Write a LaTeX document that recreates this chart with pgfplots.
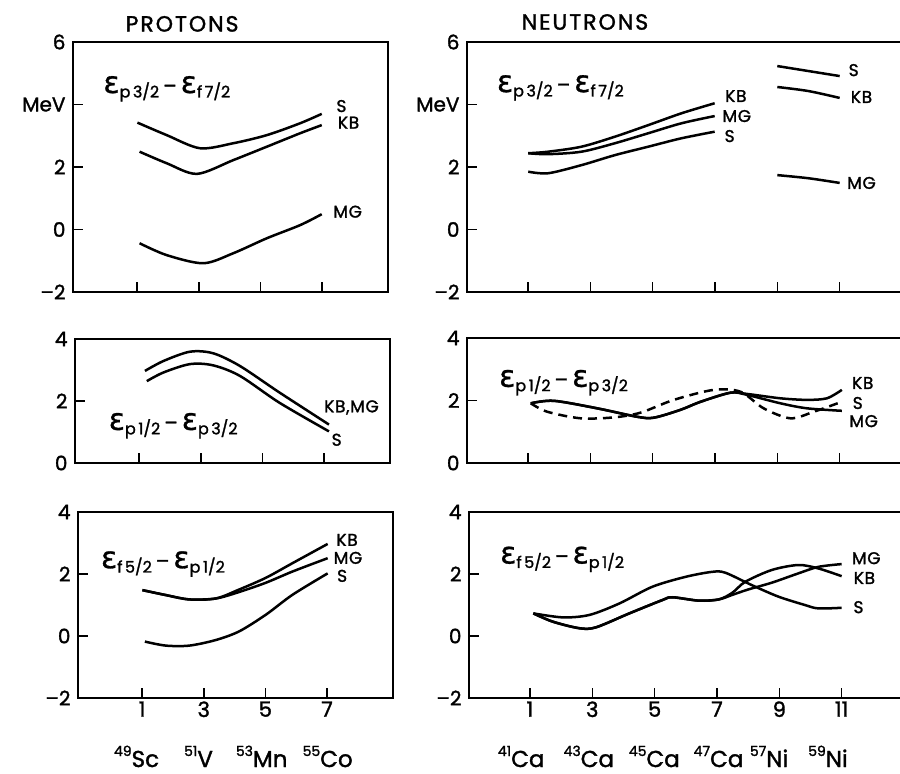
\documentclass[border=0pt]{standalone}
\usepackage{fontspec}
\setmainfont{Poppins}[UprightFeatures={FakeBold=1.5}]
\newfontfamily\epsfont{DejaVu Sans}[UprightFeatures={FakeBold=1}]
\usepackage{pgfplots}
\pgfplotsset{compat=1.18}

\newcommand{\fs}[1]{\fontsize{#1}{#1}\selectfont}
\newcommand{\E}[2]{{\epsfont\fs{30}ε}\raisebox{-4.5pt}{\fs{16}#1\hspace{2.5pt}#2}}
\newcommand{\Dsh}{\hspace{4pt}{\fs{20}–}\hspace{4pt}}
\newcommand{\nuc}[2]{\raisebox{11pt}{\fs{14}#1}{\fs{23}#2}}
\newcommand{\hdr}[1]{{\fs{22}\addfontfeature{LetterSpace=9}#1}}

\tikzset{
  lab/.style={font=\fs{17}\addfontfeature{LetterSpace=4}, inner sep=0pt},
  dsh/.style={dash pattern=on 9pt off 6pt},
}
\pgfplotsset{
  panel/.style={
    scale only axis, clip=false,
    axis line style={line width=1.7pt},
    tick style={line width=1.5pt, black},
    major tick length=10pt,
    tick align=inside,
    xtick pos=bottom, ytick pos=left,
    xticklabels={},
    yticklabel style={font=\fs{20}, xshift=-4pt},
    xticklabel style={font=\fs{21}},
    cycle list={{black}},
    every axis plot post/.append style={line width=2.5pt, black, smooth, tension=0.5, mark=none},
  },
  L/.style={panel, width=315pt, xmin=-1.08, xmax=9.14, xtick={1,3,5,7}},
  R/.style={panel, width=435pt, xmin=-0.955, xmax=13, xtick={1,3,5,7,9,11}},
}

\begin{document}
\begin{tikzpicture}
\useasboundingbox (0pt,0pt) rectangle (900pt,774pt);

% ---------- PROTONS top ----------
\begin{axis}[L, at={(73pt,482pt)}, anchor=south west, height=250pt,
  ymin=-2, ymax=6, ytick={-2,0,2,4,6}, yticklabels={–2,0,2,MeV,6}]
\addplot coordinates {(1.01,3.42) (1.96,3.02) (3.04,2.60) (4.12,2.76) (5.21,3.02) (6.29,3.40) (6.99,3.70)};
\addplot coordinates {(1.08,2.49) (1.96,2.12) (2.94,1.78) (4.12,2.22) (5.21,2.65) (6.29,3.08) (6.99,3.34)};
\addplot coordinates {(1.08,-0.44) (1.96,-0.82) (3.15,-1.08) (4.12,-0.76) (5.21,-0.28) (6.29,0.14) (6.99,0.49)};
\node at (axis cs:2.46,6.58) {\hdr{PROTONS}};
\node[anchor=base west, inner sep=0pt] at (axis cs:-0.1,4.37) {\E{p}{3/2}\Dsh\E{f}{7/2}};
\node[lab] at (axis cs:7.63,3.95) {S};
\node[lab] at (axis cs:7.86,3.42) {KB};
\node[lab] at (axis cs:7.83,0.57) {MG};
\end{axis}

% ---------- PROTONS middle ----------
\begin{axis}[L, at={(75pt,311pt)}, anchor=south west, height=124pt,
  ymin=0, ymax=4, ytick={0,2,4}, yticklabels={0,2,4}]
\addplot coordinates {(1.19,2.97) (1.79,3.29) (2.65,3.59) (3.40,3.54) (4.27,3.13) (5.56,2.27) (7.16,1.24)};
\addplot coordinates {(1.25,2.64) (1.79,2.92) (2.65,3.19) (3.40,3.15) (4.27,2.81) (5.56,1.94) (7.16,1.02)};
\node[anchor=base west, inner sep=0pt] at (axis cs:0.01,1.07) {\E{p}{1/2}\Dsh\E{p}{3/2}};
\node[lab] at (axis cs:7.89,1.79) {KB,MG};
\node[lab] at (axis cs:7.41,0.75) {S};
\end{axis}

% ---------- PROTONS bottom ----------
\begin{axis}[L, at={(78pt,76pt)}, anchor=south west, height=186pt,
  ymin=-2, ymax=4, ytick={-2,0,2,4}, yticklabels={–2,0,2,4},
  xticklabels={1,3,5,7}]
\addplot coordinates {(1.01,1.48) (1.77,1.32) (2.53,1.18) (3.39,1.21) (4.15,1.50) (5.02,1.88) (5.88,2.35) (7.02,2.97)};
\addplot coordinates {(1.01,1.48) (1.77,1.32) (2.53,1.18) (3.39,1.21) (4.15,1.42) (5.02,1.72) (5.88,2.08) (7.02,2.51)};
\addplot coordinates {(1.09,-0.18) (1.77,-0.31) (2.53,-0.31) (3.39,-0.13) (4.15,0.15) (5.02,0.69) (5.88,1.33) (7.02,2.02)};
\node[anchor=base west, inner sep=0pt] at (axis cs:-0.34,2.19) {\E{f}{5/2}\Dsh\E{p}{1/2}};
\node[lab] at (axis cs:7.65,3.10) {KB};
\node[lab] at (axis cs:7.68,2.52) {MG};
\node[lab] at (axis cs:7.49,1.94) {S};
\node[anchor=base, inner sep=0pt, yshift=-69pt] at (axis cs:0.82,-2) {\nuc{49}{Sc}};
\node[anchor=base, inner sep=0pt, yshift=-69pt] at (axis cs:2.83,-2) {\nuc{51}{V}};
\node[anchor=base, inner sep=0pt, yshift=-69pt] at (axis cs:4.88,-2) {\nuc{53}{Mn}};
\node[anchor=base, inner sep=0pt, yshift=-69pt] at (axis cs:7.02,-2) {\nuc{55}{Co}};
\end{axis}

% ---------- NEUTRONS top ----------
\begin{axis}[R, at={(467pt,482pt)}, anchor=south west, height=250pt,
  ymin=-2, ymax=6, ytick={-2,0,2,4,6}, yticklabels={–2,0,2,MeV,6}]
\addplot coordinates {(1.01,2.44) (1.65,2.49) (2.72,2.65) (3.79,2.97) (4.86,3.34) (5.93,3.72) (6.99,4.04)};
\addplot coordinates {(1.01,2.44) (1.65,2.41) (2.72,2.49) (3.79,2.76) (4.86,3.08) (5.93,3.40) (6.99,3.63)};
\addplot coordinates {(1.01,1.85) (1.65,1.80) (2.72,2.06) (3.79,2.38) (4.86,2.65) (5.93,2.92) (6.99,3.13)};
\addplot coordinates {(9,5.23) (10,5.07) (11,4.91)};
\addplot coordinates {(9,4.56) (10,4.43) (11,4.21)};
\addplot coordinates {(9,1.74) (10,1.64) (11,1.49)};
\node at (axis cs:2.83,6.64) {\hdr{NEUTRONS}};
\node[anchor=base west, inner sep=0pt] at (axis cs:0.0,4.40) {\E{p}{3/2}\Dsh\E{f}{7/2}};
\node[lab] at (axis cs:7.67,4.27) {KB};
\node[lab] at (axis cs:7.70,3.63) {MG};
\node[lab] at (axis cs:7.47,2.99) {S};
\node[lab] at (axis cs:11.45,5.10) {S};
\node[lab] at (axis cs:11.70,4.24) {KB};
\node[lab] at (axis cs:11.70,1.49) {MG};
\end{axis}

% ---------- NEUTRONS middle ----------
\begin{axis}[R, at={(467pt,311pt)}, anchor=south west, height=125pt,
  ymin=0, ymax=4, ytick={0,2,4}, yticklabels={0,2,4}]
\addplot coordinates {(1.09,1.91) (1.83,1.99) (3.22,1.75) (4.50,1.48) (5.04,1.45) (5.89,1.70) (6.54,1.96) (7.50,2.25) (8.03,2.21) (9.10,2.07) (9.95,2.02) (10.59,2.07) (11.07,2.34)};
\addplot coordinates {(1.09,1.91) (1.83,1.99) (3.22,1.75) (4.50,1.48) (5.04,1.45) (5.89,1.70) (6.54,1.96) (7.50,2.25) (8.03,2.18) (9.10,1.91) (9.95,1.75) (11.07,1.67)};
\addplot[dsh] coordinates {(1.09,1.91) (1.62,1.64) (2.69,1.43) (3.76,1.46) (4.61,1.61) (5.68,2.02) (6.96,2.34) (7.82,2.28) (8.56,1.75) (9.42,1.43) (10.17,1.64) (11.07,1.96)};
\node[anchor=base west, inner sep=0pt] at (axis cs:0.07,2.44) {\E{p}{1/2}\Dsh\E{p}{3/2}};
\node[lab] at (axis cs:11.74,2.56) {KB};
\node[lab] at (axis cs:11.58,1.92) {S};
\node[lab] at (axis cs:11.77,1.34) {MG};
\end{axis}

% ---------- NEUTRONS bottom ----------
\begin{axis}[R, at={(469pt,76pt)}, anchor=south west, height=186pt,
  ymin=-2, ymax=4, ytick={-2,0,2,4}, yticklabels={–2,0,2,4},
  xticklabels={1,3,5,7,9,11}]
\addplot coordinates {(1.11,0.73) (2.06,0.60) (2.91,0.68) (3.87,1.05) (4.93,1.59) (6.0,1.91) (6.85,2.07) (7.27,2.04) (8.12,1.64) (8.97,1.27) (9.82,1.0) (10.25,0.89) (11.0,0.91)};
\addplot coordinates {(1.11,0.73) (1.74,0.46) (2.59,0.25) (3.12,0.28) (4.19,0.73) (5.25,1.16) (5.57,1.25) (6.42,1.14) (7.06,1.18) (7.5,1.40) (7.91,1.75) (8.76,2.13) (9.61,2.29) (10.25,2.18) (11.0,1.93)};
\addplot coordinates {(1.11,0.73) (1.74,0.46) (2.59,0.25) (3.12,0.28) (4.19,0.73) (5.25,1.16) (5.57,1.25) (6.42,1.14) (7.06,1.18) (7.5,1.33) (8.0,1.50) (8.76,1.72) (9.61,2.02) (10.25,2.23) (11.0,2.32)};
\node[anchor=base west, inner sep=0pt] at (axis cs:0.04,2.34) {\E{f}{5/2}\Dsh\E{p}{1/2}};
\node[lab] at (axis cs:11.79,2.51) {MG};
\node[lab] at (axis cs:11.73,1.87) {KB};
\node[lab] at (axis cs:11.54,0.93) {S};
\node[anchor=base, inner sep=0pt, yshift=-69pt] at (axis cs:0.72,-2) {\nuc{41}{Ca}};
\node[anchor=base, inner sep=0pt, yshift=-69pt] at (axis cs:2.89,-2) {\nuc{43}{Ca}};
\node[anchor=base, inner sep=0pt, yshift=-69pt] at (axis cs:4.99,-2) {\nuc{45}{Ca}};
\node[anchor=base, inner sep=0pt, yshift=-69pt] at (axis cs:7.05,-2) {\nuc{47}{Ca}};
\node[anchor=base, inner sep=0pt, yshift=-69pt] at (axis cs:8.67,-2) {\nuc{57}{Ni}};
\node[anchor=base, inner sep=0pt, yshift=-69pt] at (axis cs:10.56,-2) {\nuc{59}{Ni}};
\end{axis}
\end{tikzpicture}
\end{document}
